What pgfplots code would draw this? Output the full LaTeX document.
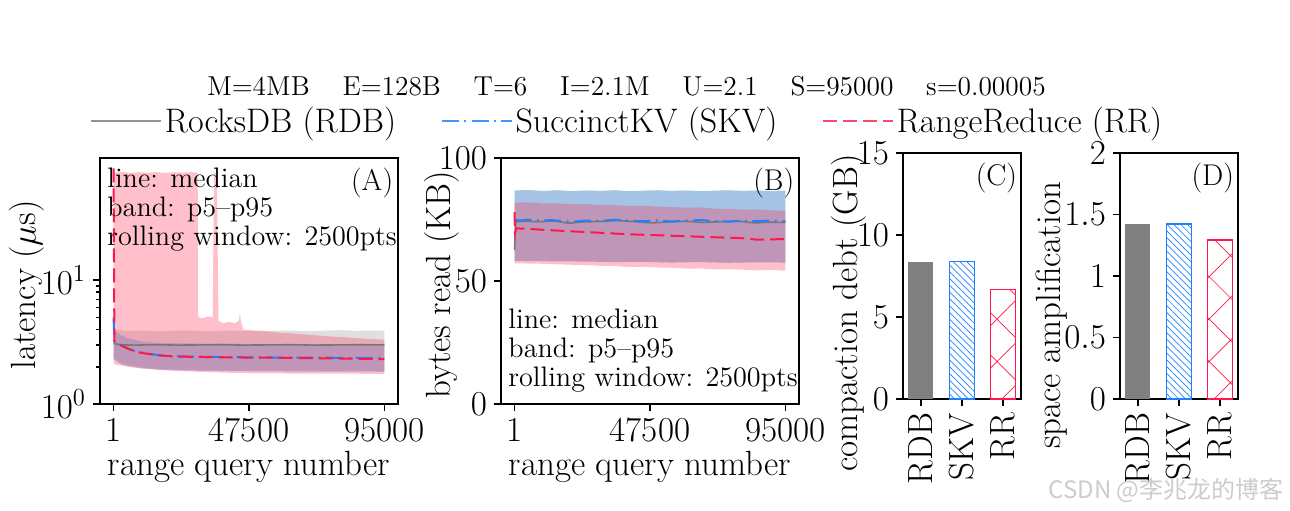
\RequirePackage{fix-cm}
\documentclass[border=0pt]{standalone}
\usepackage{fontspec}
\newfontfamily\cjk{Noto Sans CJK SC}
\usepackage{pgfplots}
\pgfplotsset{compat=1.18}
\usetikzlibrary{patterns.meta}
\definecolor{bandgray}{RGB}{128,128,128}
\definecolor{bandblue}{RGB}{107,167,233}
\definecolor{bandred}{RGB}{255,45,82}
\definecolor{lblue}{RGB}{30,130,255}
\definecolor{lred}{RGB}{255,25,75}
\definecolor{lgray}{RGB}{120,120,120}
\definecolor{bargray}{RGB}{128,128,128}
\newcommand{\fs}[1]{\fontsize{#1}{1.2\dimexpr#1pt\relax}\selectfont}
\pgfplotsset{
  common/.style={
    scale only axis, anchor=south west,
    axis line style={line width=0.9pt},
    tick style={black, line width=0.8pt},
    major tick length=3.5pt, minor tick length=2pt,
    tick align=outside, xtick pos=bottom, ytick pos=left,
    tick label style={font=\fontsize{17.5}{21}\selectfont},
    label style={font=\fontsize{17.5}{21}\selectfont},
    clip=true,
  },
  curve/.style={
    width=149pt, height=123pt,
    xmin=-4749, xmax=99749,
    xtick={1,47500,95000}, xticklabels={1,47500,95000},
    scaled x ticks=false,
    xlabel={range query number},
    xlabel style={at={(axis description cs:0.5,-0.256)}, anchor=center},
  },
  bars/.style={
    width=59pt, height=123pt,
    ybar, bar width=0.6, bar shift=0pt,
    xmin=-0.43, xmax=2.43, ymin=0,
    xtick={0,1,2}, xticklabels={RDB,SKV,RR},
    xticklabel style={rotate=90, anchor=east},
  },
}
\begin{document}
\begin{tikzpicture}
\useasboundingbox (0,0) rectangle (645pt,255pt);
\node[anchor=base, inner sep=0pt, font=\fs{13.7}] at (313.25pt,207.5pt)
  {M=4MB\hspace{16.4pt}E=128B\hspace{16.4pt}T=6\hspace{16.4pt}I=2.1M\hspace{16.4pt}U=2.1\hspace{16.4pt}S=95000\hspace{16.4pt}s=0.00005};

% ---------------- (A) latency ----------------
\begin{axis}[common, curve, at={(50pt,53pt)},
  ymode=log, ymin=1, ymax=97,
  ytick={1,10}, yticklabels={$10^{0}$,$10^{1}$},
  ylabel={latency ($\mu$s)},
  ylabel style={at={(axis description cs:-0.245,0.484)}, anchor=center, rotate=0},
  legend columns=3,
  legend cell align=left,
  legend style={at={(axis description cs:-0.035,1.150)}, anchor=west, draw=none, fill=none,
    inner sep=0pt, font=\fs{17},
    nodes={inner sep=1.4pt},
    /tikz/every even column/.append style={column sep=20.8pt}},
  legend image code/.code={\draw[#1] (0pt,0pt) -- (35pt,0pt);},
]
% RDB band
\addplot[draw=none, fill=bandgray, fill opacity=0.25, forget plot] coordinates {
 (1,4.0) (2500,3.95) (5000,3.9) (10000,3.92) (15000,3.88) (20000,3.9) (25000,3.93) (30000,3.9)
 (35000,3.88) (40000,3.92) (45000,3.9) (50000,3.87) (55000,3.9) (60000,3.93) (65000,3.9)
 (70000,3.88) (75000,3.92) (80000,3.95) (85000,3.9) (90000,3.92) (95000,3.9)
 (95000,1.85) (85000,1.86) (75000,1.85) (65000,1.87) (55000,1.86) (45000,1.87) (35000,1.88)
 (25000,1.9) (15000,1.93) (10000,1.98) (5000,2.08) (2500,2.15) (1,2.35)};
% SKV band
\addplot[draw=none, fill=bandblue, fill opacity=0.5, forget plot] coordinates {
 (1,4.0) (2500,3.6) (5000,3.4) (10000,3.2) (15000,3.12) (20000,3.1) (30000,3.08) (40000,3.07)
 (50000,3.06) (60000,3.06) (70000,3.05) (80000,3.05) (95000,3.05)
 (95000,1.82) (80000,1.83) (60000,1.83) (45000,1.84) (25000,1.86) (15000,1.9) (10000,1.95)
 (5000,2.02) (2500,2.1) (1,2.3)};
% RR band
\addplot[draw=none, fill=bandred, fill opacity=0.3, forget plot] coordinates {
 (1,74) (3000,75) (6000,73.5) (9000,74.5) (12000,73.8) (15000,74.6) (18000,73.6) (21000,74.4)
 (24000,73.9) (27000,74.5) (29500,74)
 (29700,5.1) (31000,4.9) (33000,5.1) (34800,5.0) (35000,20) (35300,74) (36200,74) (36500,18)
 (36800,4.7) (38500,4.5) (40500,4.6) (42500,4.5) (44000,4.7) (44300,5.4) (44700,4.6)
 (45500,4.0) (48000,3.95) (52000,3.9) (56000,3.82) (60000,3.75) (65000,3.68) (70000,3.6)
 (75000,3.52) (80000,3.47) (85000,3.4) (90000,3.35) (95000,3.3)
 (95000,1.75) (80000,1.76) (65000,1.76) (50000,1.77) (35000,1.8) (20000,1.86) (10000,1.93)
 (5000,2.0) (1,2.1)};
% medians
\addplot[lgray, line width=0.8pt, forget plot] coordinates {
 (1,3.1) (1000,3.05) (3000,3.0) (8000,2.99) (15000,3.01) (22000,2.99) (30000,3.0) (38000,3.01)
 (46000,2.99) (54000,3.0) (62000,3.01) (70000,2.99) (78000,3.0) (86000,3.01) (95000,3.0)};
\addplot[lblue, line width=1pt, dash pattern=on 8.5pt off 2.7pt on 1pt off 2.7pt, forget plot] coordinates {
 (1,5.0) (300,3.2) (1000,3.1) (3000,2.95) (6000,2.75) (9000,2.62) (12000,2.55) (16000,2.48)
 (20000,2.44) (25000,2.42) (30000,2.41) (40000,2.39) (50000,2.38) (60000,2.37) (70000,2.37)
 (80000,2.36) (90000,2.35) (95000,2.35)};
\addplot[lred, line width=1pt, dash pattern=on 7pt off 3pt, forget plot] coordinates {
 (1,80) (300,3.2) (1000,3.1) (3000,2.94) (6000,2.74) (9000,2.61) (12000,2.54) (16000,2.47)
 (20000,2.43) (25000,2.41) (30000,2.4) (40000,2.38) (50000,2.37) (60000,2.36) (70000,2.34)
 (80000,2.33) (90000,2.31) (95000,2.3)};
\addlegendimage{color=gray!85, line width=1.1pt}
\addlegendentry{RocksDB (RDB)}
\addlegendimage{color=lblue!85, line width=1.1pt, dash pattern=on 8.5pt off 2.7pt on 1pt off 2.7pt}
\addlegendentry{SuccinctKV (SKV)}
\addlegendimage{color=lred!80, line width=1.1pt, dash pattern=on 7pt off 3pt}
\addlegendentry{RangeReduce (RR)}
\node[anchor=north east, inner sep=0pt, font=\fs{15}] at (axis description cs:0.985,0.96) {(A)};
\node[anchor=north west, inner sep=0pt, align=left, font=\fontsize{14.1}{14.5}\selectfont]
  at (axis description cs:0.0235,0.963) {line: median\\band: p5--p95\\rolling window: 2500pts};
\end{axis}

% ---------------- (B) bytes read ----------------
\begin{axis}[common, curve, at={(250.5pt,53pt)},
  ymin=0, ymax=100, ytick={0,50,100},
  ylabel={bytes read (KB)},
  ylabel style={at={(axis description cs:-0.198,0.484)}, anchor=center},
]
\addplot[draw=none, fill=bandgray, fill opacity=0.25] coordinates {
 (1,86.8) (5000,87.0) (10000,86.6) (15000,86.9) (20000,86.5) (25000,86.8) (30000,86.6)
 (35000,86.9) (40000,86.5) (45000,86.7) (50000,86.9) (55000,86.6) (60000,86.8) (65000,86.5)
 (70000,86.7) (75000,86.9) (80000,86.6) (85000,86.8) (90000,86.5) (95000,86.7)
 (95000,57.5) (85000,57.6) (75000,57.4) (65000,57.7) (55000,57.5) (45000,57.8) (35000,57.7)
 (25000,57.9) (15000,58.0) (5000,58.1) (1,58.2)};
\addplot[draw=none, fill=bandblue, fill opacity=0.5] coordinates {
 (1,86.8) (5000,87.0) (10000,86.6) (15000,86.9) (20000,86.5) (25000,86.8) (30000,86.6)
 (35000,86.9) (40000,86.5) (45000,86.7) (50000,86.9) (55000,86.6) (60000,86.8) (65000,86.5)
 (70000,86.7) (75000,86.9) (80000,86.6) (85000,86.8) (90000,86.5) (95000,86.7)
 (95000,57.5) (85000,57.6) (75000,57.4) (65000,57.7) (55000,57.5) (45000,57.8) (35000,57.7)
 (25000,57.9) (15000,58.0) (5000,58.1) (1,58.2)};
\addplot[draw=none, fill=bandred, fill opacity=0.3] coordinates {
 (1,81.8) (5000,82.0) (10000,81.5) (15000,81.6) (20000,81.2) (25000,81.3) (30000,80.9)
 (35000,80.8) (40000,80.5) (45000,80.6) (50000,80.2) (55000,80.1) (60000,79.8) (65000,79.9)
 (70000,79.4) (75000,79.3) (80000,79.0) (85000,79.1) (90000,78.7) (95000,78.6)
 (95000,54.2) (90000,54.5) (85000,54.3) (80000,54.6) (75000,54.8) (70000,54.7) (65000,55.1)
 (60000,55.0) (55000,55.4) (50000,55.5) (45000,55.8) (40000,55.7) (35000,56.1) (30000,56.2)
 (25000,56.5) (20000,56.6) (15000,56.8) (10000,57.0) (5000,57.1) (1,57.2)};
\addplot[lgray, line width=0.8pt] coordinates {
 (1,62.6) (400,74.0) (3000,74.3) (8000,74.1) (14000,74.4) (19000,73.5) (24000,74.0)
 (30000,74.2) (36000,74.6) (42000,74.1) (48000,73.6) (54000,74.0) (60000,74.3) (66000,73.8)
 (72000,74.1) (78000,74.4) (84000,73.6) (90000,73.9) (95000,73.8)};
\addplot[lblue, line width=1pt, dash pattern=on 8.5pt off 2.7pt on 1pt off 2.7pt] coordinates {
 (1,74.8) (2000,74.6) (5000,74.9) (9000,74.5) (13000,74.8) (17000,74.3) (21000,74.1)
 (25000,74.6) (30000,74.4) (35000,74.9) (40000,74.5) (45000,74.3) (50000,74.6) (55000,74.2)
 (60000,74.5) (65000,74.8) (70000,74.4) (75000,74.1) (80000,74.5) (85000,74.3) (90000,74.6)
 (95000,74.2)};
\addplot[lred, line width=1pt, dash pattern=on 7pt off 3pt] coordinates {
 (1,78.0) (150,69.5) (600,71.4) (5000,71.2) (10000,70.8) (15000,70.5) (20000,70.2)
 (25000,69.9) (30000,69.6) (35000,69.3) (40000,69.0) (45000,68.8) (50000,68.6) (55000,68.4)
 (60000,68.2) (65000,68.0) (70000,67.8) (75000,67.6) (80000,67.4) (85000,66.8) (90000,66.9)
 (95000,67.1)};
\node[anchor=north east, inner sep=0pt, font=\fs{15}] at (axis description cs:0.985,0.96) {(B)};
\node[anchor=south west, inner sep=0pt, align=left, font=\fontsize{14.1}{14.5}\selectfont]
  at (axis description cs:0.0235,0.045) {line: median\\band: p5--p95\\rolling window: 2500pts};
\end{axis}

% ---------------- (C) compaction debt ----------------
\begin{axis}[common, bars, at={(451.5pt,55.5pt)},
  ymax=15, ytick={0,5,10,15},
  ylabel={compaction debt (GB)},
  ylabel style={at={(axis description cs:-0.46,0.35)}, anchor=center},
]
\addplot[fill=bargray, draw=none] coordinates {(0,8.35)};
\addplot[fill=white, draw=lblue, line width=0.6pt,
  postaction={pattern={Lines[angle=-45,distance=2.4pt,line width=0.35pt]}, pattern color=lblue}]
  coordinates {(1,8.4)};
\addplot[fill=white, draw=lred, line width=0.6pt,
  postaction={pattern={Hatch[angle=45,distance=15pt,line width=0.35pt]}, pattern color=lred}]
  coordinates {(2,6.68)};
\node[anchor=north east, inner sep=0pt, font=\fs{15}] at (axis description cs:0.97,0.96) {(C)};
\end{axis}

% ---------------- (D) space amplification ----------------
\begin{axis}[common, bars, at={(560pt,55.5pt)},
  ymax=2, ytick={0,0.5,1,1.5,2},
  ylabel={space amplification},
  ylabel style={at={(axis description cs:-0.58,0.34)}, anchor=center},
]
\addplot[fill=bargray, draw=none] coordinates {(0,1.423)};
\addplot[fill=white, draw=lblue, line width=0.6pt,
  postaction={pattern={Lines[angle=-45,distance=2.4pt,line width=0.35pt]}, pattern color=lblue}]
  coordinates {(1,1.423)};
\addplot[fill=white, draw=lred, line width=0.6pt,
  postaction={pattern={Hatch[angle=45,distance=15pt,line width=0.35pt]}, pattern color=lred}]
  coordinates {(2,1.293)};
\node[anchor=north east, inner sep=0pt, font=\fs{15}] at (axis description cs:0.97,0.96) {(D)};
\end{axis}

\node[anchor=east, inner sep=0pt, text=gray!40, font=\cjk\fontsize{12}{14}\selectfont] at (642pt,10pt) {CSDN @李兆龙的博客};
\end{tikzpicture}
\end{document}
